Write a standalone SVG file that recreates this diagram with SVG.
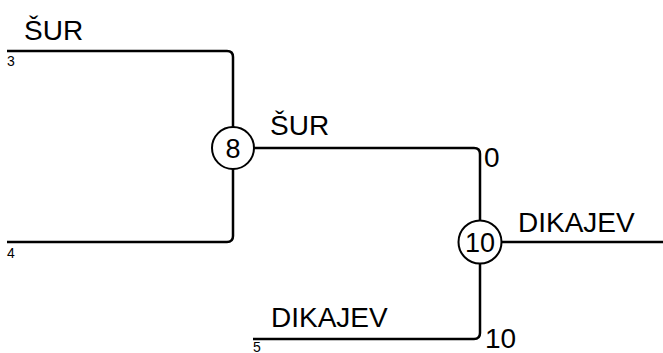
<svg xmlns="http://www.w3.org/2000/svg" width="663" height="353" viewBox="0 0 663 353">
<style>
.ln{fill:none;stroke:#000;stroke-width:2.5}
.nd{fill:#fff;stroke:#000;stroke-width:2}
.lb{font-family:"Liberation Sans",Arial,sans-serif;font-size:28px;fill:#000}
.sm{font-family:"Liberation Sans",Arial,sans-serif;font-size:14px;fill:#000}
.nt{font-family:"Liberation Sans",Arial,sans-serif;font-size:27px;fill:#000;text-anchor:middle}
</style>
<rect width="663" height="353" fill="#fff"/>
<g id="connectors">
<path class="ln" d="M7,51 H227 Q233,51 233,57 V127"/>
<path class="ln" d="M7,242 H227 Q233,242 233,236 V169"/>
<path class="ln" d="M254,148 H474 Q480,148 480,154 V221"/>
<path class="ln" d="M253,339 H474 Q480,339 480,333 V264"/>
<path class="ln" d="M502,242 H663"/>
</g>
<g id="leaf3"><text class="lb" x="24" y="40">ŠUR</text><text class="sm" x="7" y="66">3</text></g>
<g id="leaf4"><text class="sm" x="7" y="258">4</text></g>
<g id="leaf5"><text class="lb" x="271" y="327">DIKAJEV</text><text class="sm" x="253" y="352">5</text></g>
<g id="node8"><circle class="nd" cx="233" cy="148" r="21"/><text class="nt" x="233" y="158">8</text><text class="lb" x="270" y="135">ŠUR</text></g>
<g id="node10"><circle class="nd" cx="480" cy="242" r="21.5"/><text class="nt" x="480" y="252">10</text><text class="lb" x="484" y="167">0</text><text class="lb" x="485" y="348">10</text><text class="lb" x="518" y="232">DIKAJEV</text></g>
</svg>
